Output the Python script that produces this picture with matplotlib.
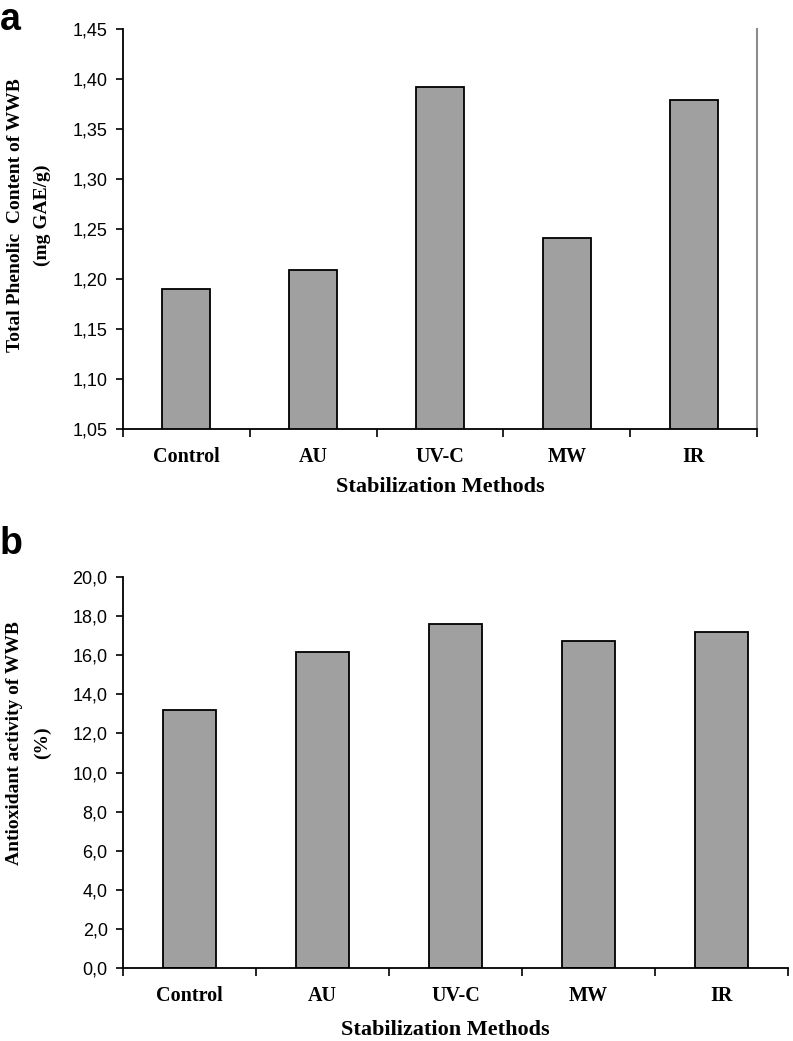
import matplotlib
matplotlib.use('Agg')
import matplotlib.pyplot as plt
import numpy as np

methods = ['Control', 'AU', 'UV-C', 'MW', 'IR']
phenolic = [1.190, 1.209, 1.392, 1.241, 1.379]
antiox = [13.2, 16.16, 17.6, 16.73, 17.19]

phenolic_ticks = [1.05, 1.10, 1.15, 1.20, 1.25, 1.30, 1.35, 1.40, 1.45]
antiox_ticks = [0, 2, 4, 6, 8, 10, 12, 14, 16, 18, 20]

W, H = 793, 1041
fig = plt.figure(figsize=(W / 100, H / 100), dpi=100)

tick_font = dict(family=['Liberation Sans Narrow', 'Liberation Sans', 'DejaVu Sans'], size=13)
serif_bold = dict(family=['Liberation Serif', 'DejaVu Serif'], weight='bold')
bar_color = '#a0a0a0'


def style_axes(ax, values, ticks, fmt, bar_w):
    x = np.arange(len(methods)) + 0.5
    ax.bar(x, values, width=bar_w, color=bar_color, edgecolor='black', linewidth=1.3)
    ax.set_xlim(0, len(methods))
    ax.set_ylim(ticks[0], ticks[-1])

    # category boundaries get the tick marks, names sit at minor ticks
    ax.set_xticks(np.arange(len(methods) + 1))
    ax.set_xticklabels([])
    ax.set_xticks(x, minor=True)
    ax.set_xticklabels(methods, minor=True, fontsize=14.5, **serif_bold)
    ax.tick_params(axis='x', which='major', direction='out', length=6, width=1.2)
    ax.tick_params(axis='x', which='minor', length=0, pad=13)

    ax.set_yticks(ticks)
    ax.set_yticklabels([fmt(t) for t in ticks], fontdict=tick_font)
    ax.tick_params(axis='y', direction='out', length=5, width=1.2, pad=6)

    ax.spines['top'].set_visible(False)
    ax.spines['left'].set_linewidth(1.3)
    ax.spines['bottom'].set_linewidth(1.3)


# panel a
ax_a = fig.add_axes([123 / W, 1 - 429 / H, (757 - 123) / W, 400 / H])
style_axes(ax_a, phenolic, phenolic_ticks, lambda t: f'{t:.2f}'.replace('.', ','), 0.38)
ax_a.spines['right'].set_color('#8c8c8c')
ax_a.spines['right'].set_linewidth(1.5)
ax_a.set_ylabel('Total Phenolic  Content of WWB\n(mg GAE/g)', fontsize=14,
                linespacing=1.75, va='center', **serif_bold)
ax_a.yaxis.set_label_coords(-0.148, 0.535)
ax_a.set_xlabel('Stabilization Methods', fontsize=16, **serif_bold)
ax_a.xaxis.label.set_va('center')
ax_a.xaxis.set_label_coords(0.5, -0.145)

# panel b
ax_b = fig.add_axes([123 / W, 1 - 968 / H, (788 - 123) / W, 391 / H])
style_axes(ax_b, antiox, antiox_ticks, lambda t: f'{t:.1f}'.replace('.', ','), 0.405)
ax_b.spines['right'].set_visible(False)
ax_b.set_ylabel('Antioxidant activity of WWB\n(%)', fontsize=14,
                linespacing=1.75, va='center', **serif_bold)
ax_b.yaxis.set_label_coords(-0.142, 0.575)
ax_b.set_xlabel('Stabilization Methods', fontsize=16, **serif_bold)
ax_b.xaxis.label.set_va('center')
ax_b.xaxis.set_label_coords(0.485, -0.159)

fig.text(0.0, 1 - 2 / H, 'a', fontsize=27, fontweight='bold', ha='left', va='top',
         family=['Liberation Sans', 'DejaVu Sans'])
fig.text(0.0, 1 - 526 / H, 'b', fontsize=27, fontweight='bold', ha='left', va='top',
         family=['Liberation Sans', 'DejaVu Sans'])

fig.savefig('out.png', dpi=100)
